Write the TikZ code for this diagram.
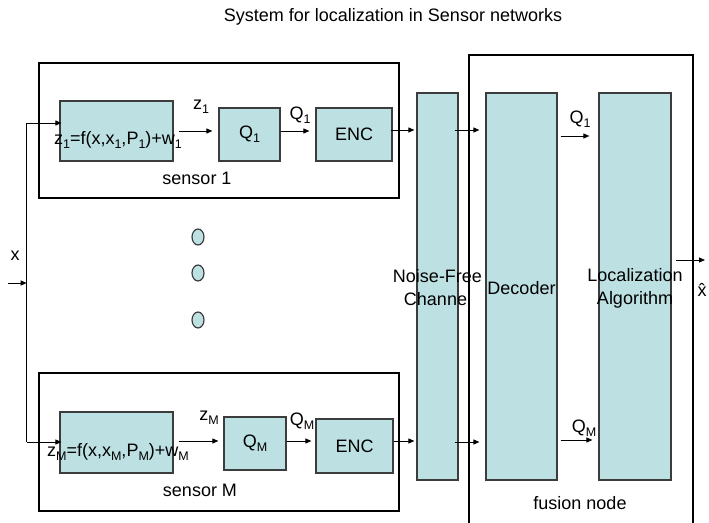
\documentclass[tikz,border=0pt]{standalone}
\usepackage{fontspec}
\setmainfont{Liberation Sans}
\usetikzlibrary{arrows.meta,shapes.geometric}
\definecolor{blkfill}{RGB}{189,224,226}
\definecolor{blkline}{RGB}{60,60,60}
\newcommand\sbs[1]{\raisebox{-4pt}{\fontsize{12.5}{12.5}\selectfont #1}}
\begin{document}
\begin{tikzpicture}[x=1pt,y=-1pt,
  every node/.style={font=\fontsize{18}{23}\selectfont},
  blk/.style={draw=blkline, line width=1.2pt, fill=blkfill, inner sep=0pt, align=center},
  frame/.style={draw=black, line width=1.6pt, inner sep=0pt},
  lbl/.style={inner sep=0pt, align=center},
  arr/.style={draw=black, line width=0.9pt, -{Triangle[length=6pt,width=5pt]}},
  ln/.style={draw=black, line width=0.9pt},
  dot/.style={draw=blkline, line width=1.2pt, fill=blkfill, ellipse, minimum width=12pt, minimum height=16pt, inner sep=0pt}
]
\useasboundingbox (0,0) rectangle (709,522);
% title
\node[lbl] (title) at (393,17) {System for localization in Sensor networks};

% sensor frames
\node[frame, minimum width=360pt, minimum height=135pt] (s1) at (219,130.5) {};
\node[frame, minimum width=360pt, minimum height=138pt] (sM) at (219,442) {};

% fusion frame (open at bottom)
\coordinate (fbl) at (469,530);
\coordinate (ftl) at (469,55);
\coordinate (ftr) at (693,55);
\coordinate (fbr) at (693,530);
\draw[draw=black, line width=1.6pt] (fbl) -- (ftl) -- (ftr) -- (fbr);

% sensor 1 blocks
\node[blk, minimum width=113pt, minimum height=60pt] (f1) at (116.5,131) {};
\node[blk, minimum width=61pt, minimum height=53pt] (q1) at (249.5,134.5) {Q\sbs{1}};
\node[blk, minimum width=76pt, minimum height=53pt] (e1) at (354,134.5) {ENC};
\node[lbl] (f1t) at (118,140) {z\sbs{1}=f(x,x\sbs{1},P\sbs{1})+w\sbs{1}};
\node[lbl] (z1l) at (201,107) {z\sbs{1}};
\node[lbl] (q1l) at (300,115) {Q\sbs{1}};
\node[lbl] (s1l) at (197,178) {sensor 1};

% sensor M blocks
\node[blk, minimum width=113pt, minimum height=61pt] (fM) at (116.5,442.5) {};
\node[blk, minimum width=62pt, minimum height=53pt] (qM) at (255,443.5) {Q\sbs{M}};
\node[blk, minimum width=77pt, minimum height=54pt] (eM) at (354.5,446) {ENC};
\node[lbl] (fMt) at (118,452) {z\sbs{M}=f(x,x\sbs{M},P\sbs{M})+w\sbs{M}};
\node[lbl] (zMl) at (209,418) {z\sbs{M}};
\node[lbl] (qMl) at (302,421) {Q\sbs{M}};
\node[lbl] (sMl) at (200,490) {sensor M};

% dots
\node[dot] (d1) at (198,237) {};
\node[dot] (d2) at (198,273) {};
\node[dot] (d3) at (198,320) {};

% channel, decoder, localization
\node[blk, minimum width=41pt, minimum height=387pt] (ch) at (437.5,286.5) {};
\node[blk, minimum width=71pt, minimum height=387pt] (dec) at (521.5,286.5) {};
\node[blk, minimum width=72pt, minimum height=387pt] (loc) at (635,286.5) {};
\node[lbl] (cht) at (437.5,288) {Noise-Free\\Channel};
\node[lbl] (dect) at (521.5,288) {Decoder};
\node[lbl] (loct) at (635,288) {Localization\\Algorithm};

\node[lbl] (fusl) at (580,503) {fusion node};

% input
\node[lbl] (xl) at (15,256) {x};
\coordinate (xin) at (8,283);
\coordinate (xj) at (26.7,283);
\coordinate (xtop) at (26.7,123);
\coordinate (xbot) at (26.7,442);
\draw[ln] (xtop) -- (xbot);
\draw[arr] (xin) -- (xj);
\draw[arr] (xtop) -- ([xshift=2pt]xtop -| f1.west);
\draw[arr] (xbot) -- ([xshift=2pt]xbot -| fM.west);

% sensor 1 arrows
\draw[arr, shorten <=5pt, shorten >=6pt] (f1.east) -- (f1.east -| q1.west);
\draw[arr, shorten >=6pt] (q1.east |- f1.east) -- (f1.east -| e1.west);
\draw[arr, shorten <=-2pt, shorten >=2pt] (e1.east |- 0,130) -- (ch.west |- 0,130);
\draw[arr, shorten <=-4pt, shorten >=6pt] (ch.east |- 0,130) -- (dec.west |- 0,130);
\draw[arr, shorten <=3pt, shorten >=9pt] (dec.east |- 0,136) -- (loc.west |- 0,136);
\node[lbl] (lq1) at (580,119) {Q\sbs{1}};

% sensor M arrows
\draw[arr, shorten <=5pt, shorten >=5pt] (fM.east |- 0,441) -- (qM.west |- 0,441);
\draw[arr, shorten >=4pt] (qM.east |- 0,441) -- (eM.west |- 0,441);
\draw[arr, shorten <=0pt, shorten >=2pt] (eM.east |- 0,441) -- (ch.west |- 0,441);
\draw[arr, shorten <=-4pt, shorten >=6pt] (ch.east |- 0,442) -- (dec.west |- 0,442);
\draw[arr, shorten <=3pt, shorten >=6pt] (dec.east |- 0,440) -- (loc.west |- 0,440);
\node[lbl] (lqM) at (584,428) {Q\sbs{M}};

% output
\coordinate (xout) at (705,260);
\draw[arr, shorten <=4pt] (loc.east |- xout) -- (xout);
\node[lbl] (xhat) at (702,290) {\^{x}};
\end{tikzpicture}
\end{document}
